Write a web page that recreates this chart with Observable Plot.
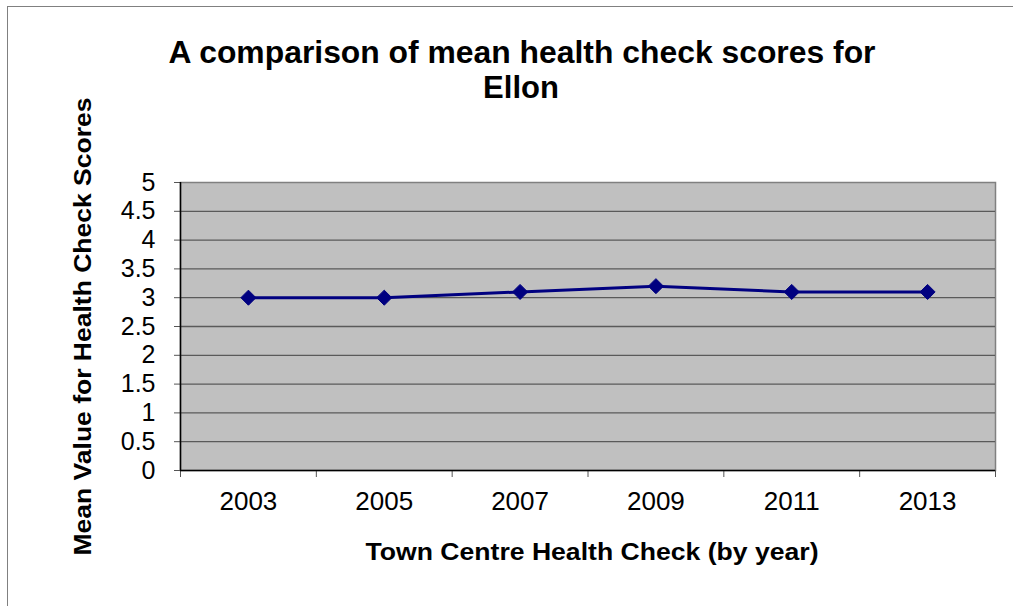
<!DOCTYPE html>
<html>
<head>
<meta charset="utf-8">
<script src="https://cdn.jsdelivr.net/npm/d3@7"></script>
<script src="https://cdn.jsdelivr.net/npm/@observablehq/plot@0.6"></script>
<style>
  html, body { margin: 0; padding: 0; background: #fff; }
  #wrap { position: relative; width: 1013px; height: 606px; overflow: hidden; }
  #border { position: absolute; left: 7px; top: 6px; width: 1020px; height: 620px;
            border-top: 1px solid #808080; border-left: 1px solid #808080; }
  #wrap svg { position: absolute; left: 0; top: 0; }
</style>
</head>
<body>
<div id="wrap"><div id="border"></div></div>
<script>
const years = ["2003", "2005", "2007", "2009", "2011", "2013"];
const scores = [3.0, 3.0, 3.1, 3.2, 3.1, 3.1];
const yTicks = [0, 0.5, 1, 1.5, 2, 2.5, 3, 3.5, 4, 4.5, 5];
const titleLines = ["A comparison of mean health check scores for", "Ellon"];
const xTitle = "Town Centre Health Check (by year)";
const yTitle = "Mean Value for Health Check Scores";

const data = years.map((y, i) => ({i, year: y, score: scores[i]}));
const boundaries = d3.range(years.length + 1);
const centers = years.map((_, i) => i + 0.5);
const font = "Liberation Sans, Arial, sans-serif";

const chart = Plot.plot({
  width: 1013,
  height: 606,
  marginLeft: 180,
  marginRight: 18,
  marginTop: 182,
  marginBottom: 136,
  style: {fontFamily: font, background: "transparent", color: "#000"},
  x: {domain: [0, years.length], axis: null, label: null},
  y: {domain: [0, 5], axis: null, label: null},
  marks: [
    Plot.frame({fill: "#c0c0c0", stroke: "#808080", strokeWidth: 1.5}),
    Plot.gridY(yTicks.filter(d => d > 0 && d < 5), {stroke: "#5a5a5a", strokeOpacity: 1, strokeWidth: 1.3}),
    Plot.axisY({ticks: yTicks, label: null, tickSize: 6, tickPadding: 19, fontSize: 25, tickFormat: d => String(d), stroke: "#555"}),
    Plot.axisX({ticks: boundaries, label: null, tickSize: 7, tickFormat: () => "", stroke: "#555"}),
    Plot.axisX({ticks: centers, label: null, tickSize: 0, tickPadding: 21, fontSize: 26, tickFormat: d => years[Math.round(d - 0.5)]}),
    Plot.ruleX([0], {stroke: "#000", strokeWidth: 1.5}),
    Plot.ruleY([0], {stroke: "#000", strokeWidth: 1.5}),
    Plot.line(data, {x: d => d.i + 0.5, y: "score", stroke: "#000080", strokeWidth: 3}),
    Plot.dot(data, {x: d => d.i + 0.5, y: "score", symbol: "diamond2", r: 6.8, fill: "#000080", stroke: "#000080", strokeWidth: 1}),
    Plot.text([titleLines[0]], {text: d => d, frameAnchor: "top", dx: -66, dy: -129, lineAnchor: "middle", fontSize: 31, fontWeight: "bold", fill: "#000"}),
    Plot.text([titleLines[1]], {text: d => d, frameAnchor: "top", dx: -67, dy: -94, lineAnchor: "middle", fontSize: 31, fontWeight: "bold", fill: "#000"}),
    Plot.text([xTitle], {text: d => d, frameAnchor: "bottom", dx: 4, dy: 82, lineAnchor: "middle", fontSize: 24, fontWeight: "bold", fill: "#000"}),
    Plot.text([yTitle], {text: d => d, frameAnchor: "left", dx: -97, dy: 0, rotate: -90, textAnchor: "middle", lineAnchor: "middle", fontSize: 24, fontWeight: "bold", fill: "#000"})
  ]
});
document.getElementById("wrap").appendChild(chart);

// stretch text horizontally to match the reference's wide glyphs
const targetLengths = new Map([[titleLines[0], 707], [xTitle, 453], [yTitle, 458]]);
d3.select(chart).selectAll("text").each(function() {
  const t = this.textContent;
  if (targetLengths.has(t)) {
    this.setAttribute("textLength", targetLengths.get(t));
    this.setAttribute("lengthAdjust", "spacingAndGlyphs");
  }
});
</script>
</body>
</html>
